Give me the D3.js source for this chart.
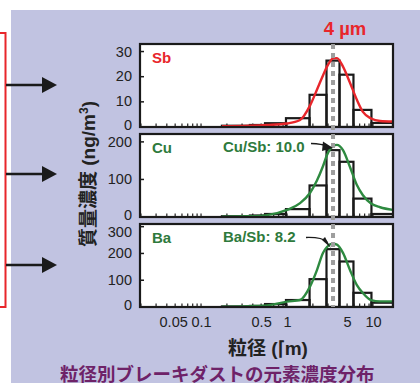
<!DOCTYPE html>
<html><head><meta charset="utf-8">
<script src="https://cdn.jsdelivr.net/npm/d3@7"></script>
<style>body{margin:0;background:#fff}svg{display:block}</style>
</head><body><svg id="c" width="420" height="383"></svg>
<script>
// ---- data ----
const binEdges = [0.175, 0.37, 0.555, 0.973, 1.83, 2.88, 4.08, 5.93, 9.6, 17.1]; // µm
const sbBars = [0.5, 0.8, 1.5, 3.5, 12.8, 26.4, 20.8, 6.8, 1.6];
const cuBars = [2, 4, 8, 21, 84, 178, 147, 49, 8];
const baBars = [2, 4, 11, 26, 104, 216, 170, 53, 16];
const curveDiam = [0.175, 0.37, 0.587, 1.0, 1.42, 1.85, 2.23, 2.62, 2.92, 3.16, 3.43, 3.81, 4.48, 5.4, 6.5, 7.64, 9.5, 12.1, 17.1];
const sbCurve = [0.3, 0.5, 0.8, 1.4, 2.8, 8.5, 14.8, 20.5, 24, 26, 27.3, 27.4, 24, 17.6, 10.8, 6, 3.4, 2.4, 2.2];
const cuCurve = [1, 2, 5, 19, 37, 64, 97, 135, 165, 180, 189, 192, 178, 133, 85, 58, 36, 26, 19];
const baCurve = [1, 3, 6, 20, 26, 76, 138, 202, 224, 234, 236, 233, 202, 138, 82, 52, 26, 21, 21];
const elements = ["Sb", "Cu", "Ba"];
const yMax = [33, 221, 310];
const yTickVals = [[0, 10, 20, 30], [0, 100, 200], [0, 100, 200, 300]];
const xTickVals = [0.05, 0.1, 0.5, 1, 5, 10];
const xDomain = [0.0195, 17.1];
const peakDiam = 3.43;
const ratioLabels = [null, "Cu/Sb: 10.0", "Ba/Sb: 8.2"];

const RED = "#e8262b", GREEN = "#2e8a40", GREENT = "#2e7a3c", LAV = "#c1c3e1";
const FONT = "'Liberation Sans', Arial, 'Noto Sans CJK JP', sans-serif";
const svg = d3.select("#c").style("font-family", FONT);

// background
svg.append("rect").attr("x", 11).attr("y", 10).attr("width", 409).attr("height", 373).attr("fill", LAV);

// red bracket + arrows
svg.append("path").attr("d", "M0,33H5.5V307H0").attr("fill", "none").attr("stroke", RED).attr("stroke-width", 2);
[85, 174, 265].forEach(y => {
  svg.append("line").attr("x1", 6).attr("x2", 45).attr("y1", y).attr("y2", y).attr("stroke", "#1a1a1a").attr("stroke-width", 2.5);
  svg.append("path").attr("d", `M42,${y-8}L57,${y}L42,${y+8}Z`).attr("fill", "#1a1a1a");
});

const left = 140, right = 393, panelH = 83;
const tops = [44, 134, 224];
const x = d3.scaleLog().domain(xDomain).range([left, right]);
const bars = [sbBars, cuBars, baBars], curves = [sbCurve, cuCurve, baCurve];
const colors = [RED, GREEN, GREEN], tcolors = [RED, GREENT, GREENT];

const minorTicks = [];
[0.01, 0.1, 1, 10].forEach(d => { for (let k = 1; k <= 9; k++) { const v = d * k; if (v >= 0.02 && v <= 10.01) minorTicks.push(v); } });

elements.forEach((el, i) => {
  const top = tops[i], bot = top + panelH;
  const y = d3.scaleLinear().domain([0, yMax[i]]).range([bot, top]);
  const g = svg.append("g");
  g.append("rect").attr("x", left).attr("y", top).attr("width", right - left).attr("height", panelH).attr("fill", "#fff");
  const cid = "clip" + i;
  g.append("clipPath").attr("id", cid).append("rect").attr("x", left).attr("y", top).attr("width", right - left).attr("height", panelH);
  const inner = g.append("g").attr("clip-path", `url(#${cid})`);
  // minor x ticks (inside)
  inner.selectAll("line.mt").data(minorTicks).join("line")
    .attr("x1", d => x(d)).attr("x2", d => x(d)).attr("y1", bot).attr("y2", bot - 3.5)
    .attr("stroke", "#222").attr("stroke-width", 1.2);
  // bars
  inner.selectAll("rect.bar").data(bars[i]).join("rect")
    .attr("x", (d, j) => x(binEdges[j])).attr("width", (d, j) => x(binEdges[j + 1]) - x(binEdges[j]))
    .attr("y", d => y(d)).attr("height", d => bot - y(d))
    .attr("fill", "none").attr("stroke", "#1a1a1a").attr("stroke-width", 2.2);
  // curve
  const line = d3.line().x((d, j) => x(curveDiam[j])).y(d => y(d)).curve(d3.curveMonotoneX);
  inner.append("path").attr("d", line(curves[i])).attr("fill", "none").attr("stroke", colors[i]).attr("stroke-width", 2.4);
  // box
  g.append("rect").attr("x", left).attr("y", top).attr("width", right - left).attr("height", panelH)
    .attr("fill", "none").attr("stroke", "#1a1a1a").attr("stroke-width", 2.2);
  // y tick labels (kept clear of the panel edges)
  const yAxis = d3.axisLeft(y).tickValues(yTickVals[i]).tickSize(0).tickPadding(8);
  const ga = g.append("g").attr("transform", `translate(${left},0)`).call(yAxis);
  ga.select(".domain").remove();
  ga.selectAll(".tick").attr("transform", d => `translate(0,${Math.max(top + 8, Math.min(bot - 2, y(d)))})`);
  ga.selectAll("text").attr("font-size", 14.5).attr("fill", "#222").attr("font-family", FONT);
  g.selectAll("line.yt").data(yTickVals[i].filter(v => v > 0 && y(v) > top + 2)).join("line")
    .attr("x1", left).attr("x2", left + 4).attr("y1", d => y(d)).attr("y2", d => y(d)).attr("stroke", "#1a1a1a").attr("stroke-width", 1.5);
  // element label
  g.append("text").attr("x", 152).attr("y", top + 14).attr("dy", "0.35em").attr("font-size", 15).attr("font-weight", "bold")
    .attr("fill", tcolors[i]).text(el);
});

// x axis labels
const xa = svg.append("g").attr("transform", `translate(0,${tops[2] + panelH})`)
  .call(d3.axisBottom(x).tickValues(xTickVals).tickFormat(d => String(d)).tickSize(0).tickPadding(10));
xa.select(".domain").remove();
xa.selectAll("text").attr("font-size", 14.5).attr("fill", "#222").attr("font-family", FONT)
  .attr("dx", d => d === 0.05 ? -2 : 0);

// dashed peak line
svg.append("line").attr("x1", x(peakDiam)).attr("x2", x(peakDiam)).attr("y1", 44).attr("y2", 307)
  .attr("stroke", "#9e9e9e").attr("stroke-width", 4).attr("stroke-dasharray", "5,4");

// "4 µm"
svg.append("text").attr("x", 345).attr("y", 35).attr("text-anchor", "middle").attr("font-size", 18.5)
  .attr("font-weight", "bold").attr("fill", RED).text("4 µm");

// ratio annotations
const annY = [null, 147, 237];
const arrowPaths = [null, "M311,143.5 Q322,144 327,146", "M306,237.5 Q322,237 327,242"];
const heads = [null, "M323,141.5 L333,148 L322,151 Z", "M322,240 L331,248 L325,237 Z"];
[1, 2].forEach(i => {
  svg.append("text").attr("x", 223).attr("y", annY[i]).attr("dy", "0.36em").attr("font-size", 15).attr("font-weight", "bold")
    .attr("fill", GREENT).text(ratioLabels[i]);
  svg.append("path").attr("d", arrowPaths[i]).attr("fill", "none").attr("stroke", "#1a1a1a").attr("stroke-width", 1.3);
  svg.append("path").attr("d", heads[i]).attr("fill", "#1a1a1a");
});

// y-axis title
const yt = svg.append("text").attr("transform", "translate(95,174) rotate(-90)").attr("text-anchor", "middle")
  .attr("font-size", 19).attr("font-weight", "bold").attr("fill", "#222");
yt.append("tspan").text("質量濃度 (ng/m");
yt.append("tspan").attr("baseline-shift", "super").attr("font-size", 12).text("3");
yt.append("tspan").text(")");

// x-axis title
svg.append("text").attr("x", 268).attr("y", 355).attr("text-anchor", "middle").attr("font-size", 19)
  .attr("font-weight", "bold").attr("fill", "#222").text("粒径 (⌈m)");

// bottom caption
svg.append("text").attr("x", 60).attr("y", 381).attr("font-size", 18.5).attr("font-weight", "bold")
  .attr("fill", "#6e2268").attr("font-family", "'Noto Sans CJK JP', sans-serif").text("粒径別ブレーキダストの元素濃度分布");
</script></body></html>
